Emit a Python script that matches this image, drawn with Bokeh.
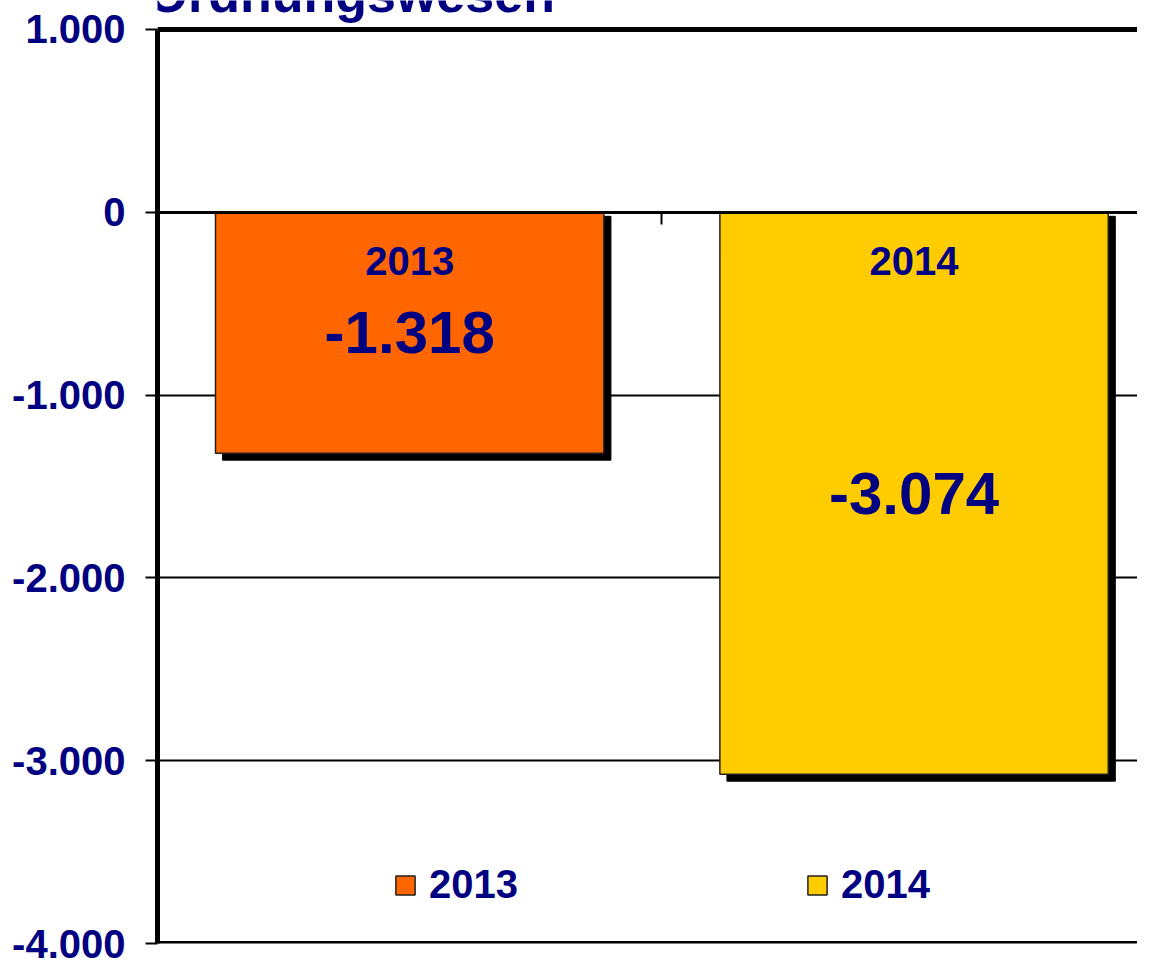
from bokeh.plotting import figure
from bokeh.models import Range1d, FixedTicker, Span, Label, ColumnDataSource, Legend, LegendItem
from bokeh.core.properties import value
from bokeh.embed import file_html
from bokeh.resources import INLINE

# ---- data ----
title_text = "Ordnungswesen"
years = ["2013", "2014"]
values = [-1318, -3074]
colors = ["#FF6600", "#FFCC00"]
y_ticks = [1000, 0, -1000, -2000, -3000, -4000]
y_tick_labels = ["1.000", "0", "-1.000", "-2.000", "-3.000", "-4.000"]

NAVY = "#000080"
FONT = "Liberation Sans"

xs = [i + 0.5 for i in range(len(years))]
value_labels = [f"{v:,}".replace(",", ".") for v in values]

SHADOW_DX = 0.014
SHADOW_TOP = -22
SHADOW_DY = 38
Y_HEADROOM = 158.6   # frame extends above the top tick up to the canvas edge

src = ColumnDataSource(dict(
    x=xs, top=[0] * len(values), bottom=values, color=colors,
    year=years, vlabel=value_labels, mid=[v / 2 for v in values],
    sx=[x + SHADOW_DX for x in xs], stop=[SHADOW_TOP] * len(values),
    sbottom=[v - SHADOW_DY for v in values],
))

p = figure(width=1137, height=969,
           x_range=Range1d(0, 1.943),
           y_range=Range1d(y_ticks[-1], y_ticks[0] + Y_HEADROOM),
           output_backend="svg", toolbar_location=None,
           min_border_left=157, min_border_right=0,
           min_border_top=0, min_border_bottom=26)
p.outline_line_color = None
p.background_fill_color = "white"
p.border_fill_color = "white"

# shadows
p.vbar(x="sx", width=0.77, top="stop", bottom="sbottom", source=src,
       fill_color="black", line_color="black")
bars = p.vbar(x="x", width=0.77, top="top", bottom="bottom", source=src,
              fill_color="color", line_color="#222222", line_width=1.5)

# labels in bars
p.text(x="x", y="top", text="year", source=src, y_offset=49,
       text_align="center", text_baseline="middle",
       text_font=value(FONT), text_font_style="bold",
       text_font_size="40px", text_color=NAVY)
p.text(x="x", y="mid", text="vlabel", source=src,
       text_align="center", text_baseline="middle",
       text_font=value(FONT), text_font_style="bold",
       text_font_size="60px", text_color=NAVY)

# y axis
yax = p.yaxis[0]
yax.ticker = FixedTicker(ticks=y_ticks)
yax.bounds = (y_ticks[-1], y_ticks[0])
yax.major_label_overrides = {t: l for t, l in zip(y_ticks, y_tick_labels)}
yax.major_label_text_font = FONT
yax.major_label_text_font_style = "bold"
yax.major_label_text_font_size = "40px"
yax.major_label_text_color = NAVY
yax.major_label_standoff = 20
yax.axis_line_width = 5
yax.axis_line_color = "black"
yax.major_tick_out = 12
yax.major_tick_in = 0
yax.major_tick_line_width = 2
yax.major_tick_line_color = "black"
yax.minor_tick_line_color = None

# x axis at zero
xax = p.xaxis[0]
xax.fixed_location = 0
xax.ticker = FixedTicker(ticks=[1])
xax.major_label_overrides = {1: ""}
xax.major_label_text_font_size = "1px"
xax.major_label_standoff = 0
xax.axis_line_width = 3
xax.axis_line_color = "black"
xax.major_tick_out = 12
xax.major_tick_in = 0
xax.major_tick_line_width = 2
xax.minor_tick_line_color = None

# grid
p.xgrid.visible = False
p.ygrid.ticker = FixedTicker(ticks=y_ticks)
p.ygrid.grid_line_color = "black"
p.ygrid.grid_line_width = 2

# frame top / bottom lines
p.add_layout(Span(location=y_ticks[0], dimension="width", line_color="black", line_width=5))
p.add_layout(Span(location=y_ticks[-1], dimension="width", line_color="black", line_width=5))

# legend
legend = Legend(items=[LegendItem(label=years[i], renderers=[bars], index=i) for i in range(len(years))],
                orientation="horizontal", location=(236, 36),
                glyph_width=24, glyph_height=24, label_standoff=12, spacing=287,
                padding=0, margin=0, border_line_color=None, background_fill_alpha=0,
                label_text_font=FONT, label_text_font_style="bold",
                label_text_font_size="40px", label_text_color=NAVY)
p.add_layout(legend, "center")

# title (cut off at top); screen units are relative to the frame
p.add_layout(Label(x=-10, y=950, x_units="screen", y_units="screen", text=title_text,
                   text_font=FONT, text_font_style="bold", text_font_size="52px",
                   text_color=NAVY, text_baseline="alphabetic"))

open("out.html", "w").write(file_html(p, INLINE))
